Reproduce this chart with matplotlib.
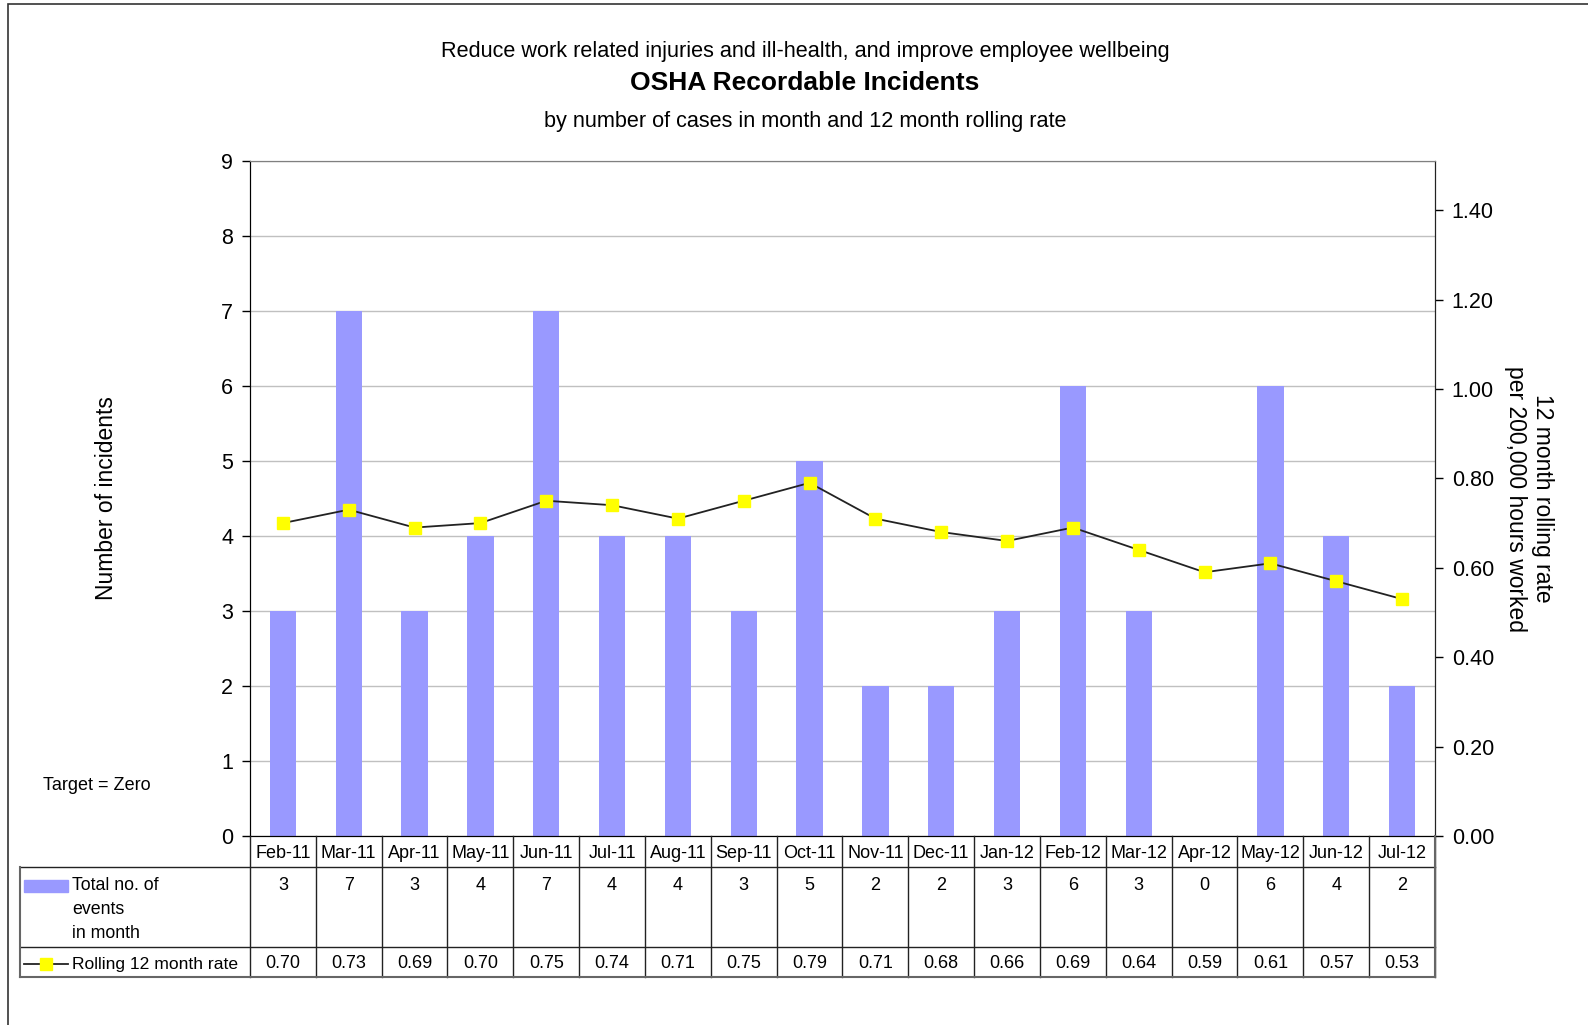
import matplotlib.pyplot as plt
import matplotlib.transforms as mtransforms
from matplotlib.patches import Rectangle
from matplotlib.lines import Line2D
import numpy as np

plt.rcParams['font.family'] = ['Liberation Sans', 'DejaVu Sans']

months = ['Feb-11', 'Mar-11', 'Apr-11', 'May-11', 'Jun-11', 'Jul-11', 'Aug-11', 'Sep-11',
          'Oct-11', 'Nov-11', 'Dec-11', 'Jan-12', 'Feb-12', 'Mar-12', 'Apr-12', 'May-12',
          'Jun-12', 'Jul-12']
events = [3, 7, 3, 4, 7, 4, 4, 3, 5, 2, 2, 3, 6, 3, 0, 6, 4, 2]
rolling = [0.70, 0.73, 0.69, 0.70, 0.75, 0.74, 0.71, 0.75, 0.79, 0.71, 0.68, 0.66,
           0.69, 0.64, 0.59, 0.61, 0.57, 0.53]

W, H = 1588, 1025
fig = plt.figure(figsize=(W / 100, H / 100), dpi=100)

# outer frame (right/bottom run off the page)
fig.patches.append(Rectangle((8 / W, -0.1), 1.2, 1 - 4 / H + 0.1, transform=fig.transFigure,
                             fill=False, edgecolor='#333333', linewidth=1.2))

left, right, top, bottom = 250, 1435, 161, 836
ax = fig.add_axes([left / W, 1 - bottom / H, (right - left) / W, (bottom - top) / H])
x = np.arange(len(months))

ax.bar(x, events, width=0.4, color='#9999FF', zorder=2)
ax.set_xlim(-0.5, len(months) - 0.5)
ax.set_ylim(0, 9)
ax.set_yticks(range(10))
ax.yaxis.grid(True, color='#C0C0C0', linewidth=1)
ax.set_axisbelow(True)
ax.set_xticks([])
ax.tick_params(axis='y', labelsize=15.5, length=6, width=1, pad=6)
ax.spines['top'].set_color('#808080')
ax.spines['left'].set_color('#222222')
ax.spines['bottom'].set_color('#222222')
ax.set_ylabel('Number of incidents', fontsize=16.5, labelpad=74)

ax2 = ax.twinx()
ax2.plot(x, rolling, color='#222222', linewidth=1.3, marker='s', markersize=9,
         markerfacecolor='#FFFF00', markeredgecolor='#FFFF00', zorder=3)
ax2.set_ylim(0, 1.51)
ax2.set_yticks(np.arange(0, 1.41, 0.2))
ax2.set_yticklabels([f'{v:.2f}' for v in np.arange(0, 1.41, 0.2)])
ax2.tick_params(axis='y', labelsize=15.5, length=6, width=1, pad=6)
ax2.spines['right'].set_color('#222222')
ax2.spines['top'].set_color('#808080')
ax2.set_ylabel('12 month rolling rate\nper 200,000 hours worked', fontsize=16.5,
               rotation=270, labelpad=43, linespacing=1.2)

# titles
cx = 0.507
fig.text(cx, 1 - 52 / H, 'Reduce work related injuries and ill-health, and improve employee wellbeing',
         ha='center', va='center', fontsize=15.6)
fig.text(cx, 1 - 83 / H, 'OSHA Recordable Incidents', ha='center', va='center',
         fontsize=19, fontweight='bold')
fig.text(cx, 1 - 122 / H, 'by number of cases in month and 12 month rolling rate',
         ha='center', va='center', fontsize=15.6)
fig.text(43 / W, 1 - 786 / H, 'Target = Zero', ha='left', va='center', fontsize=13)

# data table below the chart
def fy(py):
    return 1 - py / H

def fx(px):
    return px / W

trans = mtransforms.blended_transform_factory(ax.transData, fig.transFigure)
lc = '#222222'
y_hdr, y_r1, y_r2 = 867, 947, 977
for i in range(len(months) + 1):
    fig.lines.append(Line2D([i - 0.5, i - 0.5], [fy(bottom), fy(y_r2)], transform=trans,
                            color=lc, linewidth=1))
for py in [y_hdr, y_r1]:
    fig.lines.append(Line2D([fx(20), fx(right)], [fy(py), fy(py)], transform=fig.transFigure,
                            color=lc, linewidth=1))
fig.lines.append(Line2D([fx(20), fx(right)], [fy(y_r2), fy(y_r2)], transform=fig.transFigure,
                        color='#666666', linewidth=1.5))
fig.lines.append(Line2D([fx(20), fx(20)], [fy(y_hdr), fy(y_r2)], transform=fig.transFigure,
                        color='#666666', linewidth=1.5))
fig.lines.append(Line2D([fx(right), fx(right)], [fy(bottom), fy(y_r2)], transform=fig.transFigure,
                        color='#666666', linewidth=1.5))

for i, m in enumerate(months):
    fig.text(i, fy(853), m, transform=trans, ha='center', va='center', fontsize=13)
    fig.text(i, fy(885), str(events[i]), transform=trans, ha='center', va='center', fontsize=13)
    fig.text(i, fy(963), f'{rolling[i]:.2f}', transform=trans, ha='center', va='center', fontsize=13)

# row headers with legend keys
fig.patches.append(Rectangle((fx(24), fy(892)), fx(44), 12 / H, transform=fig.transFigure,
                             color='#9999FF'))
fig.text(fx(72), fy(886), 'Total no. of', ha='left', va='center', fontsize=12.8)
fig.text(fx(72), fy(910), 'events', ha='left', va='center', fontsize=12.8)
fig.text(fx(72), fy(933), 'in month', ha='left', va='center', fontsize=12.8)
fig.lines.append(Line2D([fx(24), fx(68)], [fy(964), fy(964)], transform=fig.transFigure,
                        color='#222222', linewidth=1.3))
fig.lines.append(Line2D([fx(46)], [fy(964)], transform=fig.transFigure, marker='s',
                        markersize=9, markerfacecolor='#FFFF00', markeredgecolor='#FFFF00'))
fig.text(fx(72), fy(964), 'Rolling 12 month rate', ha='left', va='center', fontsize=12.6)

fig.savefig('out.png', dpi=100)
